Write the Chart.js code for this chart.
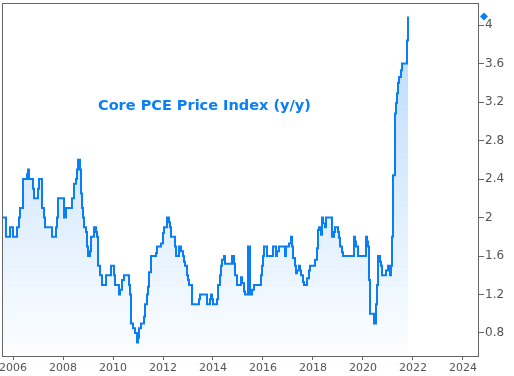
<!DOCTYPE html>
<html>
<head>
<meta charset="utf-8">
<script src="https://cdn.jsdelivr.net/npm/chart.js@4"></script>
<style>
  html, body { margin: 0; padding: 0; background: #fff; }
  #wrap { width: 514px; height: 376px; position: relative; }
</style>
</head>
<body>
<div id="wrap"><canvas id="chart"></canvas></div>
<script>
// Datas (ano decimal) e valores do Core PCE (y/y)
const years = [
  2005.56, 2005.72, 2005.88, 2006.00, 2006.16, 2006.24, 2006.28, 2006.40, 2006.56, 2006.60,
  2006.64, 2006.80, 2006.84, 2007.00, 2007.04, 2007.16, 2007.24, 2007.28, 2007.56, 2007.72,
  2007.76, 2007.80, 2008.04, 2008.12, 2008.36, 2008.44, 2008.52, 2008.56, 2008.60, 2008.68,
  2008.72, 2008.76, 2008.80, 2008.84, 2008.92, 2008.96, 2009.00, 2009.08, 2009.12, 2009.24,
  2009.32, 2009.36, 2009.40, 2009.48, 2009.56, 2009.72, 2009.92, 2010.04, 2010.08, 2010.24,
  2010.28, 2010.36, 2010.44, 2010.64, 2010.68, 2010.72, 2010.80, 2010.88, 2010.96, 2011.00,
  2011.04, 2011.12, 2011.24, 2011.28, 2011.36, 2011.40, 2011.44, 2011.52, 2011.72, 2011.76,
  2011.92, 2012.00, 2012.04, 2012.16, 2012.24, 2012.28, 2012.32, 2012.48, 2012.52, 2012.64,
  2012.72, 2012.80, 2012.84, 2012.88, 2012.96, 2013.00, 2013.04, 2013.16, 2013.44, 2013.48,
  2013.76, 2013.88, 2013.92, 2013.96, 2014.00, 2014.16, 2014.20, 2014.28, 2014.32, 2014.36,
  2014.44, 2014.48, 2014.76, 2014.84, 2014.88, 2014.96, 2015.12, 2015.16, 2015.24, 2015.28,
  2015.40, 2015.48, 2015.56, 2015.64, 2015.92, 2015.96, 2016.00, 2016.04, 2016.16, 2016.40,
  2016.52, 2016.56, 2016.64, 2016.88, 2016.92, 2017.04, 2017.12, 2017.16, 2017.20, 2017.28,
  2017.32, 2017.36, 2017.44, 2017.48, 2017.52, 2017.60, 2017.64, 2017.76, 2017.84, 2017.88,
  2018.08, 2018.16, 2018.20, 2018.24, 2018.32, 2018.36, 2018.40, 2018.48, 2018.52, 2018.76,
  2018.84, 2018.88, 2019.00, 2019.04, 2019.08, 2019.16, 2019.20, 2019.64, 2019.68, 2019.72,
  2019.80, 2020.12, 2020.16, 2020.20, 2020.24, 2020.28, 2020.44, 2020.52, 2020.56, 2020.60,
  2020.68, 2020.72, 2020.76, 2020.92, 2021.00, 2021.04, 2021.08, 2021.12, 2021.16, 2021.20,
  2021.28, 2021.32, 2021.36, 2021.40, 2021.44, 2021.52, 2021.56, 2021.76, 2021.80
];
const coreValues = [
  2.0, 1.8, 1.9, 1.8, 1.9, 2.0, 2.1, 2.4, 2.45, 2.5,
  2.4, 2.3, 2.2, 2.3, 2.4, 2.1, 2.0, 1.9, 1.8, 1.9,
  2.0, 2.2, 2.0, 2.1, 2.2, 2.35, 2.4, 2.5, 2.6, 2.5,
  2.25, 2.1, 2.0, 1.9, 1.85, 1.7, 1.6, 1.65, 1.8, 1.9,
  1.85, 1.8, 1.5, 1.4, 1.3, 1.4, 1.5, 1.4, 1.3, 1.2,
  1.25, 1.35, 1.4, 1.3, 1.2, 0.9, 0.85, 0.8, 0.7, 0.75,
  0.85, 0.9, 0.97, 1.1, 1.2, 1.28, 1.43, 1.6, 1.63, 1.7,
  1.73, 1.84, 1.9, 2.0, 1.95, 1.9, 1.8, 1.7, 1.6, 1.7,
  1.65, 1.6, 1.54, 1.5, 1.4, 1.35, 1.3, 1.1, 1.15, 1.2,
  1.1, 1.15, 1.2, 1.15, 1.1, 1.15, 1.3, 1.4, 1.5, 1.56,
  1.6, 1.52, 1.6, 1.52, 1.4, 1.3, 1.38, 1.32, 1.23, 1.2,
  1.7, 1.2, 1.25, 1.3, 1.4, 1.5, 1.6, 1.7, 1.6, 1.7,
  1.6, 1.65, 1.7, 1.6, 1.7, 1.73, 1.8, 1.7, 1.58, 1.5,
  1.42, 1.45, 1.5, 1.45, 1.4, 1.33, 1.3, 1.37, 1.45, 1.5,
  1.56, 1.68, 1.87, 1.9, 1.82, 2.0, 1.94, 1.9, 2.0, 1.8,
  1.85, 1.9, 1.85, 1.79, 1.7, 1.64, 1.6, 1.8, 1.75, 1.7,
  1.6, 1.8, 1.75, 1.7, 1.35, 1.0, 0.9, 1.1, 1.3, 1.6,
  1.54, 1.5, 1.4, 1.45, 1.5, 1.46, 1.4, 1.5, 1.8, 2.44,
  3.08, 3.19, 3.29, 3.4, 3.46, 3.53, 3.6, 3.84, 4.09
];

// Limites dos eixos e rótulos
const xRange = [2005.56, 2024.64];
const yRange = [0.561, 4.229];
const xStep = 2;
const yStep = 0.4;
const chartTitle = 'Core PCE Price Index (y/y)';
const titleAt = { x: 2009.4, y: 3.16 };

const blue = '#0a7ff5';
const axisGray = '#666';

// Moldura, título e marcador do último valor
const extras = {
  id: 'extras',
  afterDatasetsDraw(chart) {
    const { ctx, chartArea: a, scales } = chart;
    ctx.save();
    ctx.strokeStyle = axisGray;
    ctx.lineWidth = 1;
    ctx.strokeRect(a.left + 0.5, a.top + 0.5, a.right - a.left - 1, a.bottom - a.top);

    ctx.fillStyle = blue;
    ctx.font = 'bold 14.5px "DejaVu Sans"';
    ctx.textAlign = 'left';
    ctx.textBaseline = 'middle';
    ctx.fillText(chartTitle, scales.x.getPixelForValue(titleAt.x), scales.y.getPixelForValue(titleAt.y));

    const last = coreValues[coreValues.length - 1];
    const dy = scales.y.getPixelForValue(last);
    const dx = a.right + 5;
    ctx.beginPath();
    ctx.moveTo(dx, dy - 4);
    ctx.lineTo(dx + 4, dy);
    ctx.lineTo(dx, dy + 4);
    ctx.lineTo(dx - 4, dy);
    ctx.closePath();
    ctx.fill();
    ctx.restore();
  }
};

const points = years.map((yr, i) => ({ x: yr, y: coreValues[i] }));

new Chart(document.getElementById('chart'), {
  type: 'line',
  data: {
    datasets: [{
      data: points,
      stepped: true,
      borderColor: blue,
      borderWidth: 2,
      pointRadius: 0,
      fill: 'start',
      backgroundColor: function (context) {
        const { ctx, chartArea } = context.chart;
        if (!chartArea) return 'rgba(10,127,245,0.1)';
        const g = ctx.createLinearGradient(0, chartArea.top, 0, chartArea.bottom);
        g.addColorStop(0, 'rgba(10,127,245,0.30)');
        g.addColorStop(1, 'rgba(10,127,245,0.01)');
        return g;
      }
    }]
  },
  options: {
    responsive: true,
    maintainAspectRatio: false,
    animation: false,
    layout: { padding: { left: 2, top: 3, right: 0, bottom: 0 } },
    plugins: { legend: { display: false }, tooltip: { enabled: false } },
    scales: {
      x: {
        type: 'linear',
        min: xRange[0],
        max: xRange[1],
        afterFit: s => { s.height = 20; s.paddingLeft = 0; s.paddingRight = 0; },
        grid: { drawOnChartArea: false, drawTicks: true, tickLength: 4, color: axisGray },
        border: { display: false },
        ticks: {
          stepSize: xStep,
          includeBounds: false,
          autoSkip: false,
          maxRotation: 0,
          padding: 2,
          color: '#555',
          font: { family: 'DejaVu Sans', size: 11 },
          callback: v => String(v)
        }
      },
      y: {
        position: 'right',
        min: yRange[0],
        max: yRange[1],
        afterFit: s => { s.width = 35; s.paddingTop = 0; s.paddingBottom = 0; },
        grid: { drawOnChartArea: false, drawTicks: true, tickLength: 5, color: axisGray },
        border: { display: false },
        ticks: {
          stepSize: yStep,
          includeBounds: false,
          padding: 1,
          color: '#555',
          font: { family: 'DejaVu Sans', size: 12 },
          callback: v => String(+v.toFixed(1))
        }
      }
    }
  },
  plugins: [extras]
});
</script>
</body>
</html>
